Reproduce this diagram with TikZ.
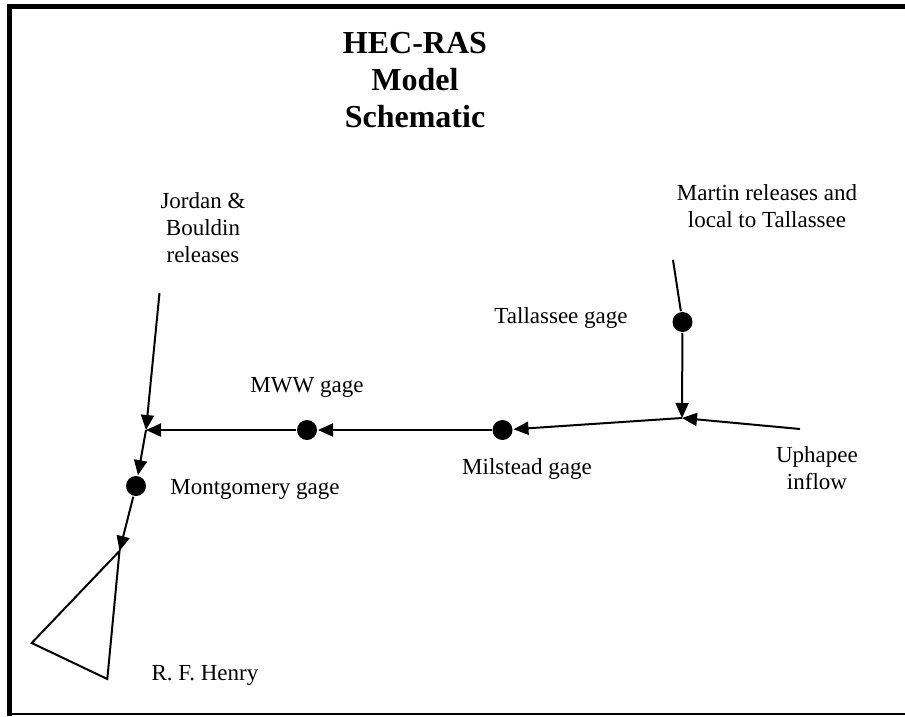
\documentclass[tikz,border=0pt]{standalone}
\usepackage{fontspec}
\setmainfont{Liberation Serif}
\usetikzlibrary{arrows.meta}

\begin{document}
\begin{tikzpicture}[x=1pt,y=-1pt,line width=2pt,>={Triangle[length=15pt,width=13pt]},
  gage/.style={circle,fill,inner sep=0pt,minimum size=20pt},
  lbl/.style={font=\fontsize{23}{27}\selectfont,inner sep=0pt,align=center}]
  \useasboundingbox (0,0) rectangle (905,716);
  % frame
  \draw[line width=5pt] (905,6.5) -- (9.5,6.5) -- (9.5,716);
  \draw[line width=1.5pt] (9.5,714) -- (905,714);
  \node[font=\fontsize{32}{37}\selectfont\bfseries,align=center] (title) at (415,80) {HEC-RAS\\Model\\Schematic};
  % gages and junctions
  \node[gage] (tal) at (682.5,322) {};
  \node[gage] (mil) at (502.5,430) {};
  \node[gage] (mww) at (307,430) {};
  \node[gage] (mon) at (136,486) {};
  \coordinate (tj) at (682,418);
  \coordinate (mj) at (146,430);
  \coordinate (rfh) at (119.5,551);
  \coordinate (martin) at (673,260);
  \coordinate (upha) at (800,429);
  \coordinate (jord) at (159.5,293);
  % labels
  \node[lbl] (martinl) at (767,206) {Martin releases and\\local to Tallassee};
  \node[lbl] (jordl) at (203,228) {Jordan \&\\Bouldin\\releases};
  \node[lbl] (uphal) at (817,468) {Uphapee\\inflow};
  \node[lbl,anchor=base] (tall) at (561,323) {Tallassee gage};
  \node[lbl,anchor=base] (mwwl) at (307,392) {MWW gage};
  \node[lbl,anchor=base] (mill) at (527,474) {Milstead gage};
  \node[lbl,anchor=base] (monl) at (255,494) {Montgomery gage};
  \node[lbl,anchor=base] (rfhl) at (205,680) {R. F. Henry};
  % river reaches
  \draw (martin) -- (tal);
  \draw[->] (tal) -- (tj);
  \draw[->] (upha) -- (tj);
  \draw[->] (tj) -- (mil);
  \draw[->] (mil) -- (mww);
  \draw[->] (mww) -- (mj);
  \draw[->] (jord) -- (mj);
  \draw[->] (mj) -- (mon);
  \draw[->] (mon) -- (rfh);
  % reservoir
  \draw (rfh) -- (31.7,643) -- (107.3,679) -- cycle;
\end{tikzpicture}
\end{document}
